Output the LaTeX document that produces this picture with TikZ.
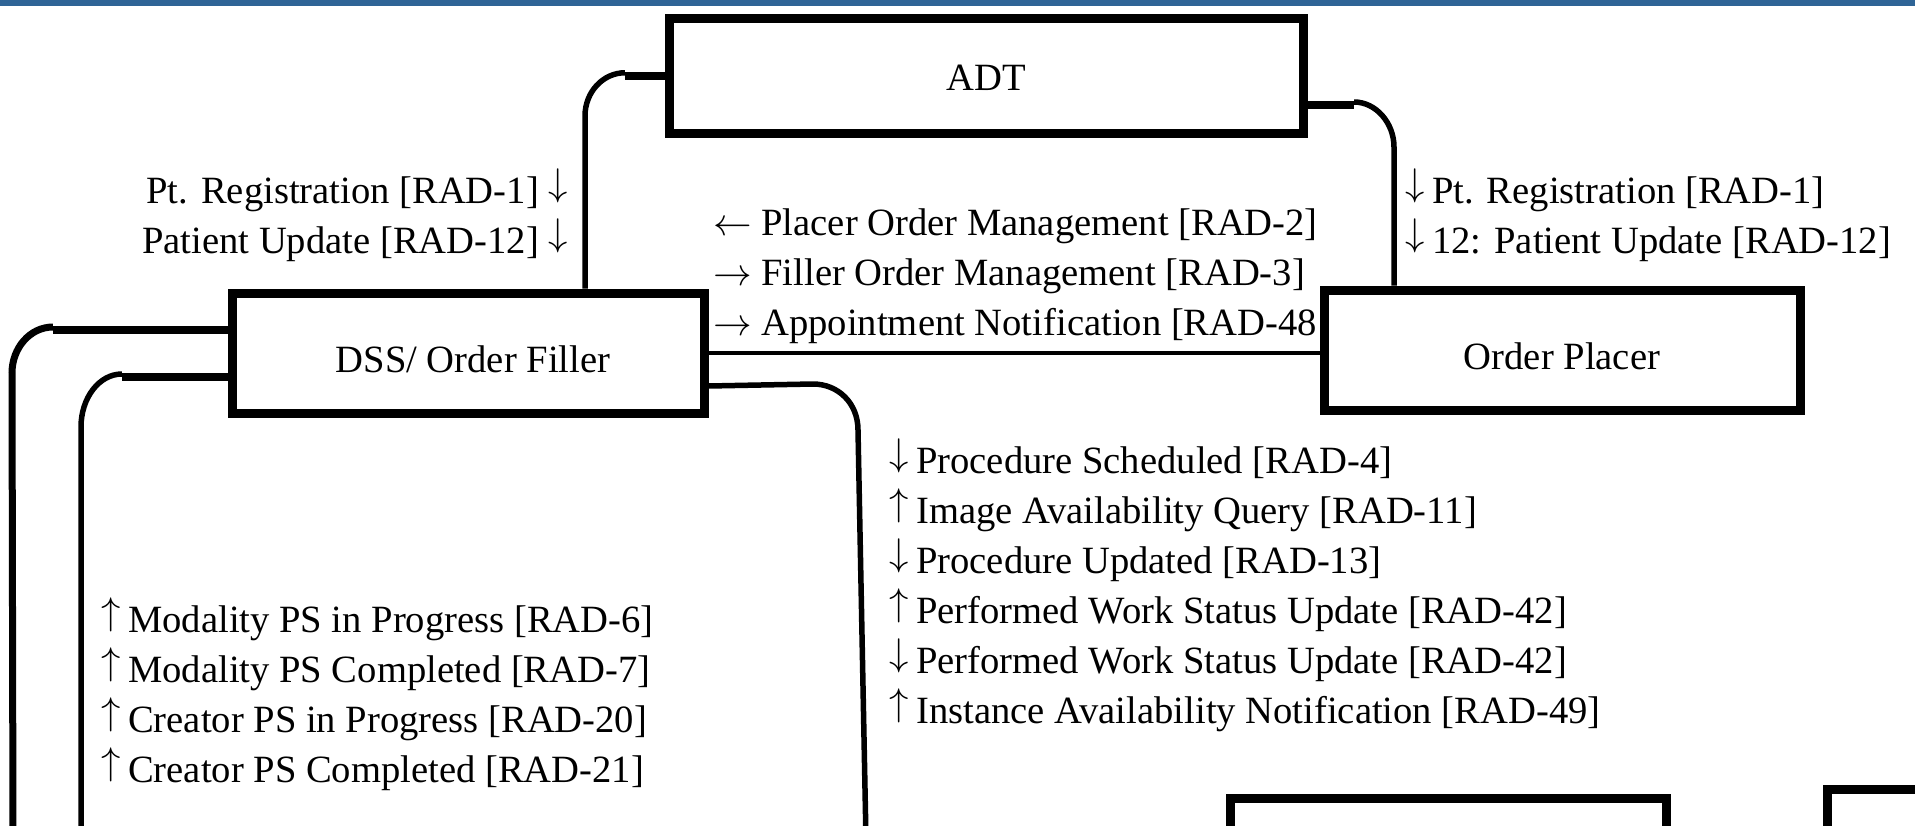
\RequirePackage{fix-cm}
\documentclass[tikz,border=0pt]{standalone}
\usepackage{fontspec}
\setmainfont{Liberation Serif}
\newcommand\lblfont{\fontsize{38.6}{50}\selectfont}
\newcommand\arrdown{\raisebox{0.19em}{$\downarrow$}}
\newcommand\arrup{\raisebox{0.19em}{$\uparrow$}}
\newcommand\lead[1]{#1\hspace{0.2em}}
\definecolor{bandblue}{RGB}{47,100,150}
\tikzset{
  actor/.style={draw, rectangle, line width=9pt, fill=white, inner sep=0pt, font=\lblfont},
  stub/.style={line width=7.5pt},
  wire/.style={line width=5.5pt},
  thinwire/.style={line width=4.5pt},
  lbl/.style={inner sep=0pt, font=\lblfont},
}
\begin{document}
\begin{tikzpicture}[x=1pt,y=-1pt]
\useasboundingbox (0,0) rectangle (1915,825);
\clip (0,0) rectangle (1915,825);
\fill[bandblue] (0,0) rectangle (1915,5.5);

% transaction labels
\node[lbl, anchor=base east] (t1) at (568,203) {Pt. Registration [RAD-1] \arrdown};
\node[lbl, anchor=base east] (t2) at (568,253) {Patient Update [RAD-12] \arrdown};
\node[lbl, anchor=base west] (t3) at (1405,203) {\lead\arrdown Pt. Registration [RAD-1]};
\node[lbl, anchor=base west] (t4) at (1405,253) {\lead\arrdown 12: Patient Update [RAD-12]};
\node[lbl, anchor=base west] (m1) at (713,235) {$\leftarrow$ Placer Order Management [RAD-2]};
\node[lbl, anchor=base west] (m2) at (713,285) {$\rightarrow$ Filler Order Management [RAD-3]};
\node[lbl, anchor=base west] (m3) at (713,335) {$\rightarrow$ Appointment Notification [RAD-48};
\node[lbl, anchor=base west] (r1) at (889,473) {\lead\arrdown Procedure Scheduled [RAD-4]};
\node[lbl, anchor=base west] (r2) at (889,523) {\lead\arrup Image Availability Query [RAD-11]};
\node[lbl, anchor=base west] (r3) at (889,573) {\lead\arrdown Procedure Updated [RAD-13]};
\node[lbl, anchor=base west] (r4) at (889,623) {\lead\arrup Performed Work Status Update [RAD-42]};
\node[lbl, anchor=base west] (r5) at (889,673) {\lead\arrdown Performed Work Status Update [RAD-42]};
\node[lbl, anchor=base west] (r6) at (889,723) {\lead\arrup Instance Availability Notification [RAD-49]};
\node[lbl, anchor=base west] (s1) at (101,632) {\lead\arrup Modality PS in Progress [RAD-6]};
\node[lbl, anchor=base west] (s2) at (101,682) {\lead\arrup Modality PS Completed [RAD-7]};
\node[lbl, anchor=base west] (s3) at (101,732) {\lead\arrup Creator PS in Progress [RAD-20]};
\node[lbl, anchor=base west] (s4) at (101,782) {\lead\arrup Creator PS Completed [RAD-21]};

% actors
\node[actor, minimum width=634pt, minimum height=114.5pt] (adt) at (986,75.75) {};
\node[lbl, anchor=base] (adtlbl) at (adt.center |- 0,90) {ADT};
\node[actor, minimum width=472pt, minimum height=120pt] (dss) at (468,353) {};
\node[lbl, anchor=base] (dsslbl) at (473,372) {DSS/ Order Filler};
\node[actor, minimum width=476pt, minimum height=120pt] (op) at (1562,350) {};
\node[lbl, anchor=base] (oplbl) at (1562,369) {Order Placer};
\node[actor, minimum width=436pt, minimum height=200pt] (boxa) at (1448,898) {};
\node[actor, minimum width=300pt, minimum height=200pt] (boxb) at (1977,889) {};

% ADT -> DSS/ Order Filler
\coordinate (al) at (625,75.75);
\draw[stub] (adt.west) -- (al);
\draw[wire] ([yshift=3pt]al) .. controls (603,72.75) and (585,92) .. (585,116) -- (585,0 |- dss.north);

% ADT -> Order Placer
\coordinate (ar) at (1354,105);
\draw[stub] (adt.east |- ar) -- (ar);
\draw[wire] ([yshift=3pt]ar) .. controls (1376,102) and (1394,123) .. (1394,147) -- (1394,0 |- op.north);

% DSS/ Order Filler <-> Order Placer
\draw[thinwire] (dss.east) -- (dss.east -| op.west);

% DSS/ Order Filler, right side, downwards
\coordinate (dr) at (813,384);
\draw[wire] (dss.east |- 0,386) -- (dr) .. controls (838,384) and (858,403) .. (858,430) -- (866,840);

% DSS/ Order Filler, left side, outer
\coordinate (dl1) at (53,330);
\draw[stub] (dss.west |- dl1) -- (dl1);
\draw[line width=7pt] ([yshift=3pt]dl1) .. controls (30,327) and (12,348) .. (12,373) -- (13,840);

% DSS/ Order Filler, left side, inner
\coordinate (dl2) at (122,377);
\draw[stub] (dss.west |- dl2) -- (dl2);
\draw[wire] ([yshift=3pt]dl2) .. controls (99,374) and (81,398) .. (81,427) -- (81,840);
\end{tikzpicture}
\end{document}
